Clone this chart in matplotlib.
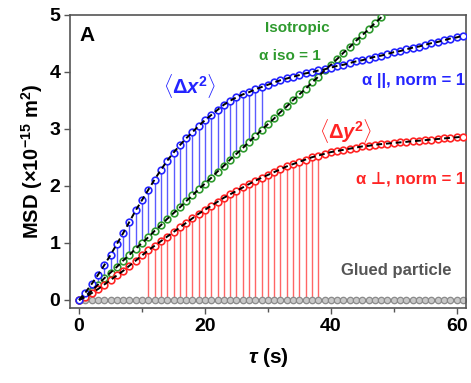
import numpy as np
from matplotlib import pyplot as plt

plt.rcParams['font.family'] = ['Liberation Sans', 'DejaVu Sans']
plt.rcParams['font.weight'] = 'bold'
plt.rcParams['mathtext.fontset'] = 'custom'
plt.rcParams['mathtext.rm'] = 'Liberation Sans:bold'
plt.rcParams['mathtext.bf'] = 'Liberation Sans:bold'
plt.rcParams['mathtext.it'] = 'Liberation Sans:italic:bold'
plt.rcParams['mathtext.bfit'] = 'Liberation Sans:italic:bold'

# lag time (s)
tau = list(range(0, 62))

# MSD along x (parallel), x 1e-15 m^2
msd_x = [0.00, 0.13, 0.28, 0.44, 0.61, 0.79, 0.98, 1.17, 1.37, 1.57,
         1.75, 1.93, 2.11, 2.28, 2.44, 2.58, 2.71, 2.83, 2.94, 3.05,
         3.15, 3.24, 3.33, 3.42, 3.49, 3.55, 3.60, 3.64, 3.69, 3.73,
         3.77, 3.81, 3.85, 3.88, 3.91, 3.94, 3.97, 3.99, 4.02, 4.04,
         4.07, 4.10, 4.12, 4.15, 4.18, 4.20, 4.23, 4.26, 4.28, 4.31,
         4.34, 4.36, 4.39, 4.42, 4.44, 4.47, 4.50, 4.52, 4.55, 4.58,
         4.60, 4.63]

# MSD along y (perpendicular)
msd_y = [0.00, 0.05, 0.12, 0.19, 0.27, 0.35, 0.43, 0.51, 0.60, 0.69,
         0.78, 0.87, 0.95, 1.03, 1.11, 1.19, 1.27, 1.35, 1.43, 1.51,
         1.58, 1.65, 1.72, 1.79, 1.85, 1.91, 1.97, 2.03, 2.09, 2.14,
         2.19, 2.24, 2.29, 2.34, 2.38, 2.42, 2.46, 2.50, 2.53, 2.56,
         2.59, 2.61, 2.63, 2.65, 2.67, 2.69, 2.70, 2.72, 2.73, 2.74,
         2.75, 2.76, 2.77, 2.78, 2.79, 2.80, 2.81, 2.82, 2.83, 2.84,
         2.85, 2.86]

# isotropic reference (runs off the top after ~48 s)
tau_iso = list(range(0, 50))
msd_iso = [0.00, 0.07, 0.16, 0.27, 0.38, 0.48, 0.58, 0.69, 0.79, 0.90,
           1.00, 1.10, 1.21, 1.31, 1.42, 1.52, 1.62, 1.73, 1.83, 1.94,
           2.04, 2.14, 2.25, 2.35, 2.46, 2.56, 2.66, 2.77, 2.87, 2.98,
           3.08, 3.18, 3.29, 3.39, 3.50, 3.60, 3.70, 3.81, 3.91, 4.02,
           4.12, 4.22, 4.33, 4.43, 4.54, 4.64, 4.74, 4.85, 4.95, 5.06]

# glued particle: no motion
msd_glued = [0.0] * len(tau)

# ranges of the shaded stems
x_stem_range = (2, 29)
y_stem_range = (11, 38)

blue = '#2424ff'
red = '#ff2424'
green = '#2e9a2e'
gray = '#8a8a8a'

fig = plt.figure(figsize=(4.71, 3.83), dpi=100)
ax = fig.add_axes([0.1486, 0.196, 0.841, 0.766])

t = np.array(tau)
mx = np.array(msd_x)
my = np.array(msd_y)
mi = np.array(msd_iso)

# stems between the isotropic line and <dx^2>
sel = (t >= x_stem_range[0]) & (t <= x_stem_range[1])
ax.vlines(t[sel], mi[t[sel]], mx[sel], color=blue, lw=1.0, alpha=0.75, zorder=1)
# stems from zero up to <dy^2>
sel = (t >= y_stem_range[0]) & (t <= y_stem_range[1])
ax.vlines(t[sel], 0, my[sel], color=red, lw=1.0, alpha=0.7, zorder=1)

ax.plot(tau, msd_glued, 'o', ms=4.6, mfc='#c8c8c8', mec=gray, mew=0.9, zorder=2)
ax.plot(tau_iso, msd_iso, 'o', ms=4.8, mfc='white', mec=green, mew=1.2, zorder=3)
ax.plot(tau, msd_y, 'o', ms=4.8, mfc='white', mec=red, mew=1.2, zorder=3)
ax.plot(tau, msd_x, 'o', ms=4.8, mfc='white', mec=blue, mew=1.2, zorder=3)

# fits
for xs, ys in [(tau_iso, msd_iso), (tau, msd_y), (tau, msd_x)]:
    ax.plot(xs, ys, color='black', lw=1.4, dashes=(3, 2), zorder=4)

ax.set_xlim(-1.45, 61.5)
ax.set_ylim(-0.14, 5)
ax.set_xticks([0, 20, 40, 60])
ax.set_xticks([10, 30, 50], minor=True)
ax.set_yticks([0, 1, 2, 3, 4, 5])
ax.tick_params(which='both', direction='out', length=4, width=1, color='#555555',
               labelsize=14, pad=3)
ax.tick_params(which='minor', length=3)
for lab in ax.get_xticklabels() + ax.get_yticklabels():
    lab.set_fontweight('bold')
for s in ax.spines.values():
    s.set_color('#555555')
    s.set_linewidth(1.2)

ax.set_xlabel(r'$\mathbfit{\tau}$ (s)', fontsize=15, fontweight='bold', labelpad=8)
ax.set_ylabel(r'MSD ($\times$10$^{\mathbf{-15}}$ m$^{\mathbf{2}}$)', fontsize=14.5,
              fontweight='bold', labelpad=3)

ax.text(0.0, 4.64, 'A', fontsize=15, fontweight='bold', ha='left', va='center')
ax.text(17.6, 3.75, r'$\langle\Delta\mathbfit{x}^{\mathbf{2}}\rangle$', color=blue,
        fontsize=14.5, ha='center', va='center')
ax.text(42.3, 2.96, r'$\langle\Delta\mathbfit{y}^{\mathbf{2}}\rangle$', color=red,
        fontsize=14.5, ha='center', va='center')
ax.text(34.6, 4.77, 'Isotropic', color=green, fontsize=11, fontweight='bold',
        ha='center', va='center')
ax.text(33.5, 4.28, 'α iso = 1', color=green, fontsize=11, fontweight='bold',
        ha='center', va='center')
ax.text(61.3, 3.84, 'α ||, norm = 1', color=blue, fontsize=12, fontweight='bold',
        ha='right', va='center')
ax.text(61.3, 2.12, 'α ⊥, norm = 1', color=red, fontsize=12, fontweight='bold',
        ha='right', va='center')
ax.text(50.4, 0.51, 'Glued particle', color='#555555', fontsize=12,
        fontweight='bold', ha='center', va='center')

fig.savefig('out.png', dpi=100)
